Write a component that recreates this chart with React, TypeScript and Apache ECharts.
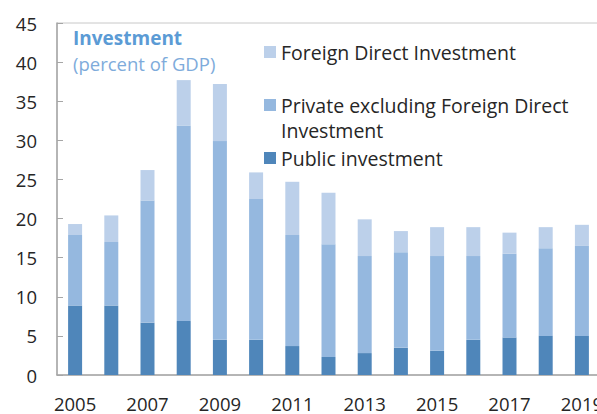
import React, { useEffect, useRef } from "react";
import * as echarts from "echarts";

const years = ["2005","2006","2007","2008","2009","2010","2011","2012","2013","2014","2015","2016","2017","2018","2019"];
const publicInv = [8.9, 8.9, 6.7, 6.9, 4.5, 4.5, 3.7, 2.3, 2.8, 3.5, 3.1, 4.5, 4.8, 5.0, 5.0];
const privateExFdi = [9.0, 8.1, 15.6, 25.0, 25.4, 18.0, 14.2, 14.4, 12.4, 12.2, 12.1, 10.7, 10.7, 11.2, 11.5];
const fdi = [1.4, 3.4, 3.9, 5.8, 7.3, 3.4, 6.8, 6.6, 4.7, 2.7, 3.7, 3.7, 2.7, 2.7, 2.7];

const FONT = "'Open Sans', sans-serif";
const TXT = "#262626";

export default function App() {
  const ref = useRef<HTMLDivElement>(null);
  useEffect(() => {
    if (!ref.current) return;
    const chart = echarts.init(ref.current, null, { renderer: "svg" });
    const legendText = { color: TXT, fontSize: 19.5, fontFamily: FONT, lineHeight: 22 };
    chart.setOption({
      animation: false,
      grid: { left: 57, top: 23, width: 543, bottom: 39, show: true, borderColor: "#C8C8C8", borderWidth: 1, backgroundColor: "transparent", outerBoundsMode: "none", containLabel: false },
      xAxis: {
        type: "category",
        data: years,
        axisLine: { lineStyle: { color: "#A6A6A6", width: 1.5 } },
        axisTick: { inside: true, length: 5, interval: 0, lineStyle: { color: "#A6A6A6" } },
        axisLabel: { interval: 1, color: TXT, fontSize: 18.5, fontFamily: FONT, margin: 19, lineHeight: 18, hideOverlap: false },
      },
      yAxis: {
        type: "value",
        min: 0,
        max: 45,
        interval: 5,
        splitLine: { show: false },
        axisLine: { show: true, lineStyle: { color: "#A6A6A6", width: 1.5 } },
        axisTick: { show: true, inside: true, length: 6, lineStyle: { color: "#A6A6A6" } },
        axisLabel: { color: TXT, fontSize: 18.5, fontFamily: FONT, margin: 20 },
      },
      legend: [
        { data: ["Foreign Direct Investment"], left: 264, top: 41, orient: "vertical", itemWidth: 12, itemHeight: 12, itemGap: 0, padding: 0, textStyle: legendText, icon: "rect" },
        { data: ["Private excluding Foreign Direct Investment"], left: 264, top: 94, orient: "vertical", itemWidth: 12, itemHeight: 12, itemGap: 0, padding: 0, textStyle: legendText, icon: "rect", formatter: () => "Private excluding Foreign Direct" },
        { data: ["Public investment"], left: 264, top: 147, orient: "vertical", itemWidth: 12, itemHeight: 12, itemGap: 0, padding: 0, textStyle: legendText, icon: "rect" },
      ],
      graphic: [
        { type: "text", left: 73, top: 28, style: { text: "Investment", fill: "#5B9BD5", font: `bold 19px ${FONT}` } },
        { type: "text", left: 73, top: 54, style: { text: "(percent of GDP)", fill: "#7EABDB", font: `18.5px ${FONT}` } },
        { type: "text", left: 281, top: 119, style: { text: "Investment", fill: TXT, font: `19.5px ${FONT}`, lineHeight: 22 } },
      ],
      series: [
        { name: "Public investment", type: "bar", stack: "inv", data: publicInv, barWidth: 14, itemStyle: { color: "#4F86BA" } },
        { name: "Private excluding Foreign Direct Investment", type: "bar", stack: "inv", data: privateExFdi, barWidth: 14, itemStyle: { color: "#95B8DF" } },
        { name: "Foreign Direct Investment", type: "bar", stack: "inv", data: fdi, barWidth: 14, itemStyle: { color: "#BCD0EA" } },
      ],
    });
    return () => chart.dispose();
  }, []);
  return <div ref={ref} style={{ width: 597, height: 414, position: "absolute", left: 0, top: 0 }} />;
}
